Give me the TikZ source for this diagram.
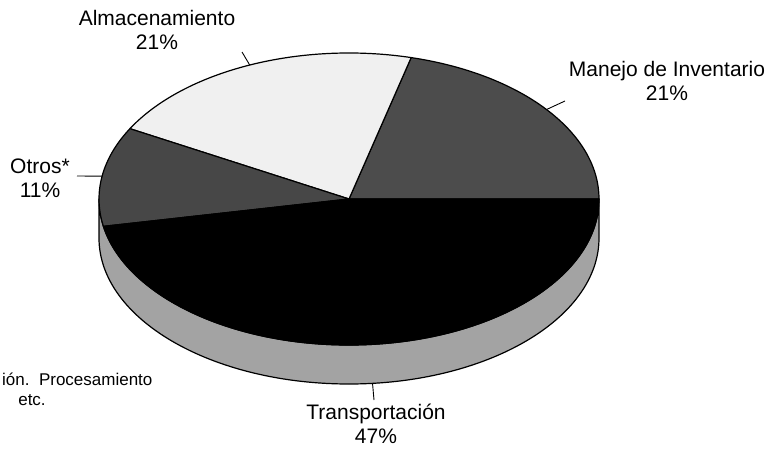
\documentclass[tikz,border=0pt]{standalone}
\usepackage{fontspec}
\setmainfont{Liberation Sans}
\usetikzlibrary{calc}
\begin{document}
\begin{tikzpicture}[x=1pt,y=1pt,
  lbl/.style={align=center,inner sep=0pt,font=\fontsize{21}{24}\selectfont},
  foot/.style={inner sep=0pt,font=\fontsize{17}{20}\selectfont},
  leader/.style={draw=black,line width=0.9pt},
  outl/.style={draw=black,line width=1.2pt,line join=round},
  ell/.style={x radius=250,y radius=146}]
\useasboundingbox[fill=white] (0,0) rectangle (774,448);
\coordinate (C) at (349,249);
\coordinate (B) at (349,210);
% side of the pie
\filldraw[fill=black!36,outl] (99,249) -- (99,210)
  arc[start angle=180,end angle=360,ell]
  -- (599,249)
  arc[start angle=360,end angle=180,ell] -- cycle;
% slices of the top face
\filldraw[fill=black!70,outl] (C) -- ($(C)+(0:250 and 146)$)
  arc[start angle=0,end angle=75.6,ell] -- cycle;
\filldraw[fill=black!6,outl] (C) -- ($(C)+(75.6:250 and 146)$)
  arc[start angle=75.6,end angle=151.2,ell] -- cycle;
\filldraw[fill=black!72,outl] (C) -- ($(C)+(151.2:250 and 146)$)
  arc[start angle=151.2,end angle=190.8,ell] -- cycle;
\filldraw[fill=black,outl] (C) -- ($(C)+(190.8:250 and 146)$)
  arc[start angle=190.8,end angle=360,ell] -- cycle;
% leader end points
\coordinate (almP) at ($(C)+(113.4:250 and 146)$);
\coordinate (manP) at ($(C)+(37.8:250 and 146)$);
\coordinate (otrP) at ($(C)+(171:250 and 146)$);
\coordinate (traP) at ($(B)+(275.4:250 and 146)$);
\coordinate (almE) at (242,396);
\coordinate (manE) at (565,347);
\coordinate (otrE) at (77,272);
\coordinate (traE) at (374,48);
\draw[leader] (almP) -- (almE);
\draw[leader] (manP) -- (manE);
\draw[leader] (otrP) -- (otrE);
\draw[leader] (traP) -- (traE);
% labels
\node[lbl] (alm) at (157,418) {Almacenamiento\\21\%};
\node[lbl] (man) at (667,367) {Manejo de Inventario\\21\%};
\node[lbl] (otr) at (40,270) {Otros*\\11\%};
\node[lbl] (tra) at (376,24) {Transportación\\47\%};
\node[foot,anchor=west] (f1) at (2,69) {ión.\ \ Procesamiento};
\node[foot] (f2) at (32,48) {etc.};
\end{tikzpicture}
\end{document}
